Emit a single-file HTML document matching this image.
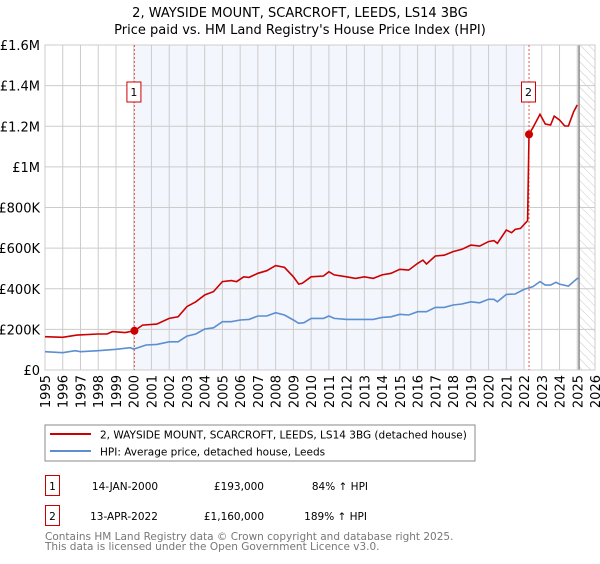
<!DOCTYPE html>
<html><head><meta charset="utf-8"><style>
body{margin:0;background:#fff;font-family:"DejaVu Sans","Liberation Sans",sans-serif;}
svg text{font-family:"DejaVu Sans","Liberation Sans",sans-serif;}
</style></head><body>
<svg id="c" width="600" height="560" xmlns="http://www.w3.org/2000/svg">
<defs><pattern id="hatch" width="6" height="6" patternUnits="userSpaceOnUse" patternTransform="rotate(-45)"><line x1="0" y1="0" x2="0" y2="6" stroke="#bbb" stroke-width="0.8"/></pattern></defs>
<text x="300" y="17" text-anchor="middle" font-size="13">2, WAYSIDE MOUNT, SCARCROFT, LEEDS, LS14 3BG</text>
<text x="300" y="34" text-anchor="middle" font-size="13">Price paid vs. HM Land Registry's House Price Index (HPI)</text>
<g id="plot"></g>
<rect x="45" y="425" width="430" height="36" fill="none" stroke="#888"/>
<line x1="50" y1="434" x2="91" y2="434" stroke="#cc0000" stroke-width="2"/>
<text x="100" y="438.5" font-size="10.5">2, WAYSIDE MOUNT, SCARCROFT, LEEDS, LS14 3BG (detached house)</text>
<line x1="50" y1="451" x2="91" y2="451" stroke="#5b8fd0" stroke-width="2"/>
<text x="100" y="455.5" font-size="10.5">HPI: Average price, detached house, Leeds</text>
<g font-size="10.5">
<rect x="45.5" y="475.5" width="14" height="20" fill="none" stroke="#cc0000"/>
<text x="52.5" y="490" text-anchor="middle">1</text>
<text x="125" y="490" text-anchor="middle">14-JAN-2000</text>
<text x="264" y="490" text-anchor="end">£193,000</text>
<text x="368" y="490" text-anchor="end">84% ↑ HPI</text>
<rect x="45.5" y="505.5" width="14" height="20" fill="none" stroke="#cc0000"/>
<text x="52.5" y="520" text-anchor="middle">2</text>
<text x="124" y="520" text-anchor="middle">13-APR-2022</text>
<text x="264" y="520" text-anchor="end">£1,160,000</text>
<text x="367" y="520" text-anchor="end">189% ↑ HPI</text>
</g>
<text x="45" y="540" font-size="10.5" fill="#777">Contains HM Land Registry data © Crown copyright and database right 2025.</text>
<text x="45" y="550" font-size="10.5" fill="#777">This data is licensed under the Open Government Licence v3.0.</text>
</svg>
<script>
const yTicks=[0,200000,400000,600000,800000,1000000,1200000,1400000,1600000];
const yTickLabels=["£0","£200K","£400K","£600K","£800K","£1M","£1.2M","£1.4M","£1.6M"];
const xYears=[1995,1996,1997,1998,1999,2000,2001,2002,2003,2004,2005,2006,2007,2008,2009,2010,2011,2012,2013,2014,2015,2016,2017,2018,2019,2020,2021,2022,2023,2024,2025,2026];
const propT=[1995,1996,1996.8,1998,1998.5,1998.8,1999.5,2000.04,2000.5,2001.3,2002,2002.5,2003,2003.5,2004,2004.5,2005,2005.5,2005.8,2006.2,2006.5,2007,2007.5,2008,2008.5,2009,2009.3,2009.5,2010,2010.7,2011,2011.3,2012,2012.5,2013,2013.5,2014,2014.5,2015,2015.5,2016,2016.3,2016.5,2017,2017.5,2018,2018.5,2019,2019.5,2020,2020.3,2020.5,2021,2021.3,2021.5,2021.8,2022.2,2022.28,2022.5,2022.9,2023.2,2023.5,2023.7,2024,2024.3,2024.5,2024.8,2025];
const propV=[164000,161000,172000,177000,177000,189000,184000,193000,221000,226000,254000,262000,312000,336000,369000,386000,435000,440000,435000,459000,456000,476000,489000,514000,505000,459000,423000,427000,459000,463000,484000,468000,459000,451000,459000,451000,468000,476000,496000,492000,525000,541000,522000,561000,565000,583000,594000,615000,610000,632000,637000,624000,689000,676000,692000,697000,735000,1160000,1193000,1259000,1211000,1206000,1250000,1231000,1201000,1201000,1272000,1305000];
const hpiT=[1995,1996,1996.7,1997,1998,1999,1999.8,2000,2000.7,2001.3,2002,2002.5,2003,2003.5,2004,2004.5,2005,2005.5,2006,2006.5,2007,2007.5,2008,2008.5,2009,2009.3,2009.6,2010,2010.7,2011,2011.3,2012,2013,2013.5,2014,2014.5,2015,2015.5,2016,2016.5,2017,2017.5,2018,2018.5,2019,2019.5,2020,2020.3,2020.5,2021,2021.5,2022,2022.5,2022.9,2023.2,2023.5,2023.8,2024,2024.5,2025,2025.1];
const hpiV=[90000,85000,95000,90000,95000,102000,110000,103000,123000,126000,139000,139000,167000,177000,202000,208000,238000,238000,246000,249000,266000,266000,282000,271000,246000,230000,233000,254000,254000,266000,254000,249000,249000,249000,259000,262000,274000,271000,287000,287000,308000,308000,320000,325000,336000,331000,348000,348000,336000,372000,374000,397000,410000,435000,418000,418000,432000,423000,413000,451000,451000];
const sales=[{t:2000.04,v:193000,n:"1"},{t:2022.28,v:1160000,n:"2"}];

const L=45,R=595,T=45,B=370;
const xs=t=>L+(t-1995)*(R-L)/31;
const ys=v=>B-v*(B-T)/1600000;
const NS="http://www.w3.org/2000/svg";
const g=document.getElementById('plot');
function mk(tag,attrs,parent){const e=document.createElementNS(NS,tag);for(const k in attrs)e.setAttribute(k,attrs[k]);(parent||g).appendChild(e);return e;}
let e;
e=mk('rect',{x:xs(2000.04),y:T,width:xs(2021.97)-xs(2000.04),height:B-T,fill:'#f3f6fd'});


e=mk('rect',{x:xs(2025.1),y:T,width:R-xs(2025.1),height:B-T,fill:'url(#hatch)'});


yTicks.forEach((v,i)=>{
  e=mk('line',{x1:L,x2:R,y1:ys(v),y2:ys(v),stroke:'#ccc'});
  
  
  e=mk('text',{x:L-5,y:ys(v)+5,'text-anchor':'end','font-size':'13'});
  e.textContent=yTickLabels[i];
  
  
});
xYears.forEach(yr=>{
  e=mk('line',{x1:xs(yr),x2:xs(yr),y1:T,y2:B,stroke:'#ccc'});
  
  
  e=mk('text',{x:0,y:0,'text-anchor':'end','font-size':'13',transform:`translate(${xs(yr)+5},${B+5}) rotate(-90)`});
  e.textContent=yr;
  
  
});
e=mk('line',{x1:xs(2025.1),x2:xs(2025.1),y1:T,y2:B,stroke:'#888','stroke-width':1.5});


e=mk('rect',{x:L,y:T,width:R-L,height:B-T,fill:'none',stroke:'#ccc'});


sales.forEach(s=>{
  e=mk('line',{x1:xs(s.t),x2:xs(s.t),y1:T,y2:B,stroke:'#e55','stroke-dasharray':'2,2'});
  
  
});
const pts=(ts,vs)=>ts.map((t,i)=>xs(t).toFixed(1)+','+ys(vs[i]).toFixed(1)).join(' ');
e=mk('polyline',{points:pts(hpiT,hpiV),fill:'none',stroke:'#5b8fd0','stroke-width':1.6});


e=mk('polyline',{points:pts(propT,propV),fill:'none',stroke:'#cc0000','stroke-width':1.6});


sales.forEach(s=>{
  e=mk('circle',{cx:xs(s.t),cy:ys(s.v),r:4,fill:'#cc0000'});
  
  
  e=mk('rect',{x:xs(s.t)-7.5,y:82,width:14,height:20,fill:'#fff',stroke:'#cc0000'});
  
  
  e=mk('text',{x:xs(s.t)-0.5,y:96,'text-anchor':'middle','font-size':'11'});
  e.textContent=s.n;
  
  
});
</script>
</body></html>
